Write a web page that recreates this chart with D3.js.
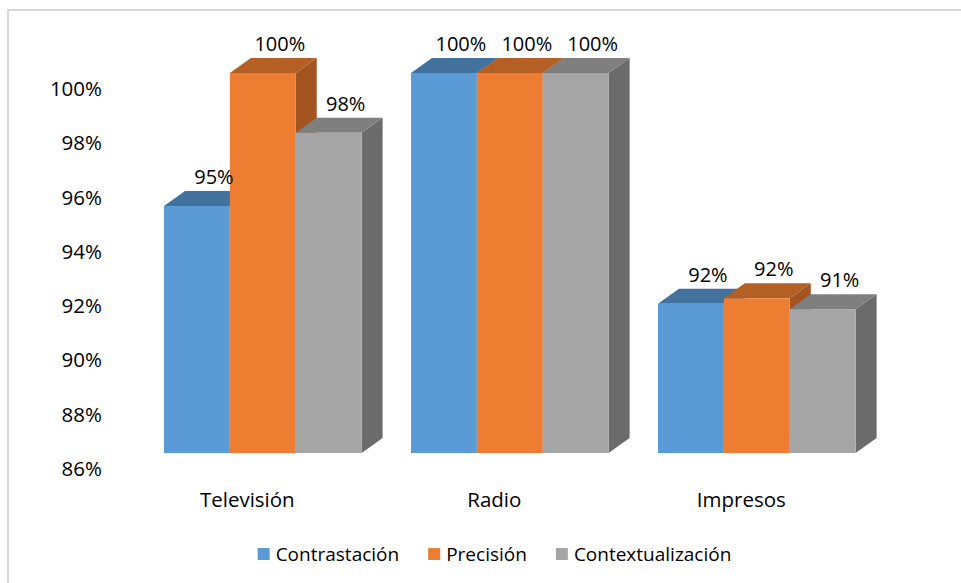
<!DOCTYPE html>
<html>
<head>
<meta charset="utf-8">
<script src="https://cdn.jsdelivr.net/npm/d3@7"></script>
<style>
  body { margin: 0; background: #fff; }
  text { font-family: "Open Sans", sans-serif; fill: #000; }
</style>
</head>
<body>
<div id="chart"></div>
<script>
// data
const categories = ["Televisión", "Radio", "Impresos"]
const series = ["Contrastación", "Precisión", "Contextualización"]
const contrastacion = [95.1, 100, 91.5]
const precision = [100, 100, 91.7]
const contextualizacion = [97.8, 100, 91.3]
const yTicks = [86, 88, 90, 92, 94, 96, 98, 100]

const values = [contrastacion, precision, contextualizacion]

const width = 961
const height = 583

// front, top and side colours for every series
const colors = {
    "Contrastación": { front: "#5b9bd5", top: "#41719c", side: "#3c6a94" },
    "Precisión": { front: "#ed7d31", top: "#b45f24", side: "#a45421" },
    "Contextualización": { front: "#a5a5a5", top: "#7f7f7f", side: "#6b6b6b" }
}

// depth of the 3D bars
const depthX = 21
const depthY = -15

const svg = d3.select("#chart")
    .append("svg")
    .attr("width", width)
    .attr("height", height)

// light outer frame
svg.append("rect")
    .attr("x", 8)
    .attr("y", 10)
    .attr("width", width + 20)
    .attr("height", height + 20)
    .attr("fill", "none")
    .attr("stroke", "#d9d9d9")
    .attr("stroke-width", 2)

const x = d3.scaleBand()
    .domain(categories)
    .range([139.3, 880.3])
    .paddingInner(0.2)
    .paddingOuter(0.1)

const xInner = d3.scaleBand()
    .domain(series)
    .range([0, x.bandwidth()])

const y = d3.scaleLinear()
    .domain([86, 100])
    .range([453, 73])

// y axis labels (no line, no ticks)
const yAxis = d3.axisLeft(y)
    .tickValues(yTicks)
    .tickSize(0)
    .tickPadding(0)
    .tickFormat(d => d + "%")

const yAxisG = svg.append("g")
    .attr("transform", "translate(102,16)")
    .call(yAxis)
yAxisG.select(".domain").remove()
yAxisG.selectAll("text")
    .style("font-family", "'Open Sans', sans-serif")
    .style("font-size", "20.5px")
    .attr("fill", "#000")

// flatten to one record per bar
const bars = []
categories.forEach((c, ci) => {
    series.forEach((s, si) => {
        bars.push({ category: c, series: s, value: values[si][ci] })
    })
})

const barG = svg.append("g").attr("class", "bars")

const bar = barG.selectAll("g")
    .data(bars)
    .enter().append("g")

const x0 = d => x(d.category) + xInner(d.series)
const x1 = d => x0(d) + xInner.bandwidth()

// side face
bar.append("path")
    .attr("fill", d => colors[d.series].side)
    .attr("d", d => {
        const t = y(d.value), b = y(86)
        return `M${x1(d)},${t}L${x1(d) + depthX},${t + depthY}L${x1(d) + depthX},${b + depthY}L${x1(d)},${b}Z`
    })

// top face
bar.append("path")
    .attr("fill", d => colors[d.series].top)
    .attr("d", d => {
        const t = y(d.value)
        return `M${x0(d)},${t}L${x1(d)},${t}L${x1(d) + depthX},${t + depthY}L${x0(d) + depthX},${t + depthY}Z`
    })

// front face
bar.append("rect")
    .attr("x", x0)
    .attr("y", d => y(d.value))
    .attr("width", xInner.bandwidth())
    .attr("height", d => y(86) - y(d.value))
    .attr("fill", d => colors[d.series].front)

// value labels
svg.append("g")
    .selectAll("text")
    .data(bars)
    .enter().append("text")
    .attr("x", d => x0(d) + xInner.bandwidth() / 2 + 17)
    .attr("y", d => y(d.value) + depthY - 14)
    .attr("dy", "0.35em")
    .attr("text-anchor", "middle")
    .style("font-size", "20px")
    .text(d => Math.round(d.value) + "%")

// category labels
svg.append("g")
    .selectAll("text")
    .data(categories)
    .enter().append("text")
    .attr("x", d => x(d) + x.bandwidth() / 2 - 15.5)
    .attr("y", 507)
    .attr("text-anchor", "middle")
    .style("font-size", "20.5px")
    .text(d => d)

// legend
const legend = svg.append("g")
const items = legend.selectAll("g")
    .data(series)
    .enter().append("g")

items.append("rect")
    .attr("width", 12)
    .attr("height", 12)
    .attr("y", 548)
    .attr("fill", d => colors[d].front)

items.append("text")
    .attr("x", 18)
    .attr("y", 561)
    .style("font-size", "19px")
    .text(d => d)

let offset = 0
const gap = 29
const offsets = []
items.each(function() {
    offsets.push(offset)
    const w = d3.select(this).select("text").node().getComputedTextLength()
    offset += 18 + w + gap
})
const total = offset - gap
const start = 494.5 - total / 2
items.attr("transform", (d, i) => `translate(${start + offsets[i]},0)`)
</script>
</body>
</html>
